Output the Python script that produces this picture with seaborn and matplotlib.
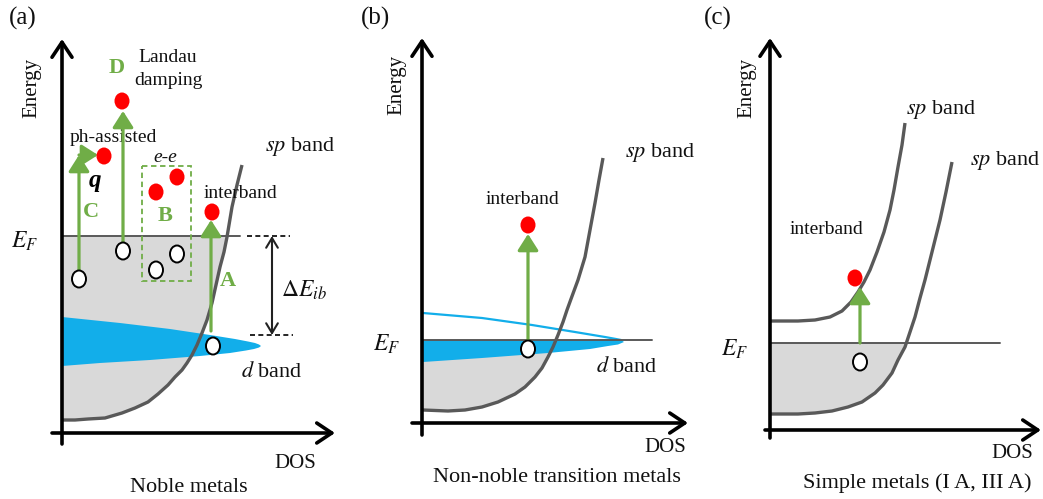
import numpy as np
import matplotlib
matplotlib.use("Agg")
import matplotlib.pyplot as plt
from matplotlib.patches import Ellipse, Rectangle, Polygon
import seaborn as sns

sns.set_theme(style="white")
plt.rcParams["font.family"] = ["Liberation Serif", "DejaVu Serif"]
plt.rcParams["mathtext.fontset"] = "stix"

GREEN = "#70ad47"
RED = "#ff0000"
CURVE = "#595959"
FILL = "#d9d9d9"
BLUE = "#12aeea"

# ---- panel frames (canvas units: 1 unit = 1 px, y downwards) ----
PANEL_TAGS = ["(a)", "(b)", "(c)"]
TAG_X = [23, 375, 718]
ENERGY_AX_X = [62, 422, 770]
ENERGY_AX_BOTTOM = [444, 435, 438]
ENERGY_AX_TOP = [39, 38, 38]
DOS_AX_Y = [433, 423, 430]
DOS_AX_START = [52, 412, 765]
DOS_AX_END = [335, 688, 1041]
ENERGY_LABEL_POS = [(32, 88), (397, 85), (747, 88)]
DOS_LABEL_POS = [(295, 463), (665, 448), (1012, 453)]
TITLES = ["Noble metals", "Non-noble transition metals", "Simple metals (I A, III A)"]
TITLE_POS = [(189, 487), (557, 477), (917, 483)]
EF_LEVEL = [236, 340, 343]
EF_LINE_END = [240, 652, 1000]
EF_LABEL_POS = [(25, 241), (387, 344), (735, 349)]

# ---- sp-band density of states curves ----
SP_A_X = [62, 75, 88, 105, 122, 135, 148, 158, 168, 175, 182, 187, 192, 197, 202,
          207, 212, 216, 220, 224, 227, 232, 237, 242]
SP_A_Y = [420, 420, 419, 418, 413, 408, 402, 394, 385, 377, 370, 363, 355, 345, 333,
          320, 303, 285, 267, 252, 237, 207, 185, 165]
SP_B_X = [423, 448, 465, 482, 498, 515, 525, 535, 542, 548, 553, 558, 563, 567,
          571, 578, 585, 590, 595, 599, 603]
SP_B_Y = [410, 411, 410, 407, 402, 394, 387, 377, 368, 357, 347, 335, 322, 310,
          299, 280, 257, 230, 203, 180, 158]
SP_C_LOW_X = [771, 798, 815, 832, 848, 862, 875, 883, 892, 898, 905, 910, 915,
              920, 925, 930, 935, 940, 946, 952]
SP_C_LOW_Y = [414, 414, 413, 411, 407, 402, 393, 385, 373, 360, 347, 332, 317,
              298, 280, 260, 240, 220, 192, 162]
SP_C_UP_X = [771, 798, 815, 830, 842, 851, 858, 864, 870, 877, 884, 890, 894,
             898, 902, 905]
SP_C_UP_Y = [321, 321, 320, 317, 311, 302, 292, 282, 270, 252, 232, 210, 190,
             167, 145, 123]

# ---- d-band lobes ----
D_A_TOP_X = [62, 120, 170, 210, 235, 248, 255, 259, 261]
D_A_TOP_Y = [317, 323, 329, 335, 339, 341.5, 343, 344.5, 346]
D_A_BOT_X = [259, 254, 246, 230, 200, 150, 100, 62]
D_A_BOT_Y = [347.5, 349, 350.5, 353, 356, 360, 363, 366]
D_B_OUT_X = [423, 482, 532, 575, 605, 616, 621]
D_B_OUT_Y = [313, 318, 325, 332, 337, 339, 340]
D_B_BOT_X = [624, 618, 608, 590, 548, 482, 423]
D_B_BOT_Y = [342, 344.5, 346, 349, 353, 358, 362]

# ---- excitation processes: hole (start) and hot electron (end) ----
HOLES = [(79, 279), (123, 251), (156, 270), (177, 254), (213, 346),
         (528, 349), (860, 362)]
ELECTRONS = [(104, 156), (122, 101), (156, 192), (177, 177), (212, 212),
             (528, 225), (855, 278)]
# vertical transitions: x, from, to
TRANSITIONS = [(79, 271, 155), (123, 243, 111), (211, 331, 220),
               (528, 340, 234), (860, 343, 287)]
PHONON_STEP = (79, 155, 98)   # x start, y, x end of the momentum kick
EE_BOX = (142, 166, 191, 281)  # left, top, right, bottom
DELTA_E = (272, 236, 335)      # x, upper level, lower level
DELTA_DASH = [(247, 290, 236), (250, 293, 335)]

fig = plt.figure(figsize=(10.43, 4.99), dpi=100)
ax = fig.add_axes([0, 0, 1, 1])
ax.set_xlim(0, 1043)
ax.set_ylim(499, 0)
ax.axis("off")


def gray_sea(cx, cy, x0, ef):
    cx = np.asarray(cx, float)
    cy = np.asarray(cy, float)
    order = np.argsort(cy)
    x_ef = np.interp(ef, cy[order], cx[order])
    keep = cy >= ef
    xs = [x0, x_ef] + list(cx[keep][::-1]) + [x0]
    ys = [ef, ef] + list(cy[keep][::-1]) + [cy.max()]
    ax.add_patch(Polygon(np.column_stack([xs, ys]), closed=True,
                         facecolor=FILL, edgecolor="none", zorder=1))


gray_sea(SP_A_X, SP_A_Y, ENERGY_AX_X[0], EF_LEVEL[0])
gray_sea(SP_B_X, SP_B_Y, ENERGY_AX_X[1], EF_LEVEL[1])
gray_sea(SP_C_LOW_X, SP_C_LOW_Y, ENERGY_AX_X[2], EF_LEVEL[2])

# d bands
ax.add_patch(Polygon(np.column_stack([D_A_TOP_X + D_A_BOT_X, D_A_TOP_Y + D_A_BOT_Y]),
                     closed=True, facecolor=BLUE, edgecolor="none", zorder=2))
ax.add_patch(Polygon(np.column_stack([[423, 621] + D_B_BOT_X,
                                      [EF_LEVEL[1], EF_LEVEL[1]] + D_B_BOT_Y]),
                     closed=True, facecolor=BLUE, edgecolor="none", zorder=2))
sns.lineplot(x=D_B_OUT_X, y=D_B_OUT_Y, sort=False, estimator=None, ax=ax,
             color=BLUE, lw=1.6, zorder=2)

# sp bands
for cx, cy in [(SP_A_X, SP_A_Y), (SP_B_X, SP_B_Y), (SP_C_LOW_X, SP_C_LOW_Y),
               (SP_C_UP_X, SP_C_UP_Y)]:
    sns.lineplot(x=cx, y=cy, sort=False, estimator=None, ax=ax, color=CURVE,
                 lw=2.4, zorder=3, solid_capstyle="butt", solid_joinstyle="round")

# Fermi levels
for x0, ef, x1 in zip(ENERGY_AX_X, EF_LEVEL, EF_LINE_END):
    ax.plot([x0, x1], [ef, ef], color=CURVE, lw=1.4, zorder=3)

# axes arrows
ax_arrow = dict(arrowstyle="->,head_length=0.45,head_width=0.3", lw=2.6,
                color="black", mutation_scale=24, shrinkA=0, shrinkB=0)
for i in range(3):
    ax.annotate("", xy=(ENERGY_AX_X[i], ENERGY_AX_TOP[i]),
                xytext=(ENERGY_AX_X[i], ENERGY_AX_BOTTOM[i]), arrowprops=ax_arrow, zorder=5)
    ax.annotate("", xy=(DOS_AX_END[i], DOS_AX_Y[i]),
                xytext=(DOS_AX_START[i], DOS_AX_Y[i]), arrowprops=ax_arrow, zorder=5)

# excitation arrows
g_arrow = dict(arrowstyle="-|>,head_length=0.55,head_width=0.35", lw=2.3,
               color=GREEN, mutation_scale=18, shrinkA=0, shrinkB=0)
for x, y0, y1 in TRANSITIONS:
    ax.annotate("", xy=(x, y1), xytext=(x, y0), arrowprops=g_arrow, zorder=4)
px, py, px1 = PHONON_STEP
ax.annotate("", xy=(px1, py), xytext=(px, py), arrowprops=g_arrow, zorder=4)

# e-e scattering box
l, t, r, b = EE_BOX
ax.add_patch(Rectangle((l, t), r - l, b - t, fill=False, edgecolor=GREEN,
                       lw=1.3, ls=(0, (3, 2)), zorder=3))

# ΔE_ib marker
for x0, x1, y in DELTA_DASH:
    ax.plot([x0, x1], [y, y], color="black", lw=1.2, ls=(0, (3, 2)), zorder=3)
dx, dy0, dy1 = DELTA_E
ax.annotate("", xy=(dx, dy0), xytext=(dx, dy1),
            arrowprops=dict(arrowstyle="<->,head_length=0.5,head_width=0.3", lw=1.5,
                            color="#222222", mutation_scale=14, shrinkA=0, shrinkB=0),
            zorder=3)

# holes and hot electrons
for x, y in HOLES:
    ax.add_patch(Ellipse((x, y), 14, 17, facecolor="white", edgecolor="black",
                         lw=1.4, zorder=6))
for x, y in ELECTRONS:
    ax.add_patch(Ellipse((x, y), 15, 17, facecolor=RED, edgecolor="none", zorder=6))

# text
txt = dict(ha="center", va="center", color="#111111")
for tag, x in zip(PANEL_TAGS, TAG_X):
    ax.text(x, 18, tag, fontsize=18, **txt)
for (x, y) in ENERGY_LABEL_POS:
    ax.text(x, y, "Energy", fontsize=15, rotation=90, **txt)
for (x, y) in DOS_LABEL_POS:
    ax.text(x, y, "DOS", fontsize=15, **txt)
for title, (x, y) in zip(TITLES, TITLE_POS):
    ax.text(x, y, title, fontsize=16, **txt)
for (x, y) in EF_LABEL_POS:
    ax.text(x, y, r"$E_F$", fontsize=17, **txt)

SP_LABELS = [(300, 147), (660, 153), (941, 109), (1005, 160)]
for (x, y) in SP_LABELS:
    ax.text(x, y, r"$\mathit{sp}$ band", fontsize=16, **txt)
D_LABELS = [(272, 372), (627, 367)]
for (x, y) in D_LABELS:
    ax.text(x, y, r"$\mathit{d}$ band", fontsize=16, **txt)
INTERBAND_LABELS = [(240, 193), (522, 200), (827, 230)]
for (x, y) in INTERBAND_LABELS:
    ax.text(x, y, "interband", fontsize=14, **txt)

ax.text(113, 137, "ph-assisted", fontsize=14, **txt)
ax.text(168, 57, "Landau", fontsize=14, **txt)
ax.text(168, 80, "damping", fontsize=14, **txt)
ax.text(165, 157, "e-e", fontsize=14, fontstyle="italic", **txt)
ax.text(95, 181, "q", fontsize=18, fontstyle="italic", fontweight="bold", ha="center",
        va="center", color="black")
ax.text(304, 290, r"$\Delta E_{ib}$", fontsize=17, **txt)

PROCESS_TAGS = ["A", "B", "C", "D"]
PROCESS_POS = [(228, 281), (165, 216), (91, 212), (117, 68)]
for tag, (x, y) in zip(PROCESS_TAGS, PROCESS_POS):
    ax.text(x, y, tag, fontsize=16, fontweight="bold", ha="center", va="center",
            color=GREEN)

fig.savefig("out.png", dpi=100)
